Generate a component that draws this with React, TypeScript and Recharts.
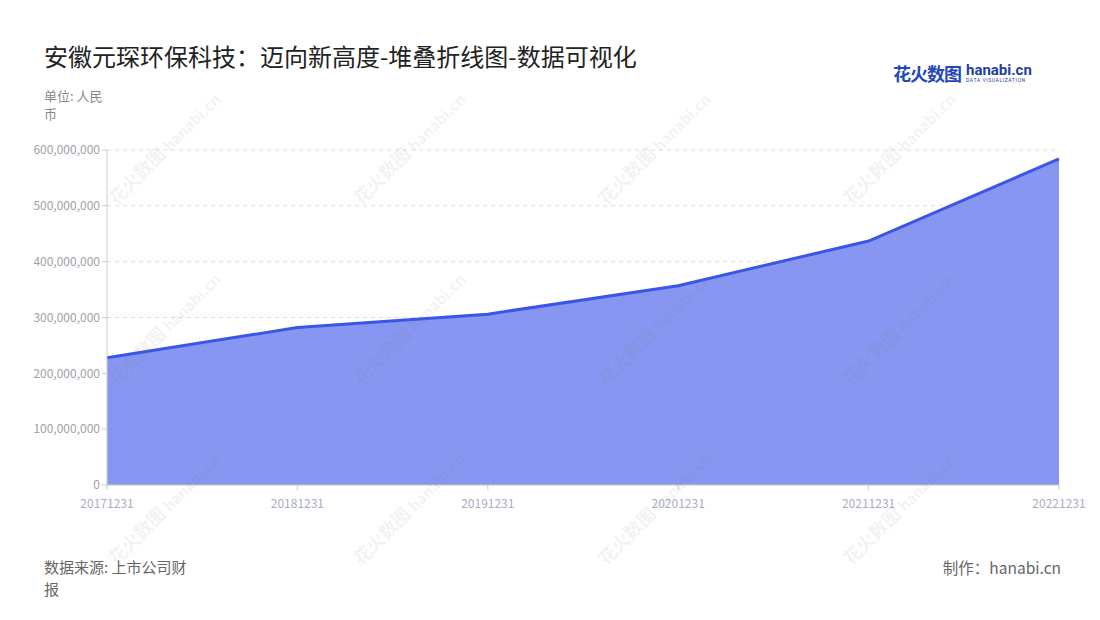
import { Area, AreaChart, CartesianGrid, XAxis, YAxis } from "recharts"

const years = ["20171231", "20181231", "20191231", "20201231", "20211231", "20221231"]
const revenue = [228000000, 282000000, 306000000, 357000000, 437000000, 584000000]
const yTicks = [0, 100000000, 200000000, 300000000, 400000000, 500000000, 600000000]

const data = years.map((name, i) => ({ name, value: revenue[i] }))

const FONT = '"Noto Sans CJK SC", "Noto Sans", sans-serif'

const marks = [
  [160, 150], [405, 150], [650, 150], [895, 150],
  [160, 330], [405, 330], [650, 330], [895, 330],
  [160, 510], [405, 510], [650, 510], [895, 510],
]

function Watermark({ x, y }: { x: number, y: number }) {
  return (
    <div
      style={{
        position: "absolute",
        left: x - 70,
        top: y - 12,
        width: 140,
        transform: "rotate(-45deg)",
        color: "rgba(120,120,120,0.1)",
        fontFamily: FONT,
        fontWeight: 700,
        fontSize: 18,
        whiteSpace: "nowrap",
        pointerEvents: "none",
      }}
    >
      花火数图 <span style={{ fontSize: 15 }}>hanabi.cn</span>
    </div>
  )
}

export default function App() {
  return (
    <div style={{ position: "absolute", left: 0, top: 0, width: 1100, height: 620, background: "#fff", fontFamily: FONT, overflow: "hidden" }}>
      <div style={{ position: "absolute", left: 44, top: 38, fontSize: 24, color: "#222", whiteSpace: "nowrap" }}>
        安徽元琛环保科技：迈向新高度-堆叠折线图-数据可视化
      </div>

      <div style={{ position: "absolute", left: 893, top: 60, display: "flex", alignItems: "center" }}>
        <span style={{ fontSize: 18, fontWeight: 700, color: "#2348b8", letterSpacing: -1 }}>花火数图</span>
        <div style={{ marginLeft: 5, lineHeight: 1 }}>
          <div style={{ fontSize: 15, fontWeight: 700, color: "#23409e", fontFamily: "Roboto, sans-serif" }}>hanabi.cn</div>
          <div style={{ fontSize: 5, color: "#23409e", letterSpacing: 0.6, fontFamily: "Roboto, sans-serif" }}>DATA VISUALIZATION</div>
        </div>
      </div>

      <div style={{ position: "absolute", left: 44, top: 87, width: 70, fontSize: 13, lineHeight: "18px", color: "#888" }}>
        单位: 人民币
      </div>

      <div style={{ position: "absolute", left: 0, top: 0 }}>
        <AreaChart
          width={1100}
          height={620}
          data={data}
          margin={{ top: 150, right: 41, left: 27, bottom: 105 }}
        >
          <CartesianGrid vertical={false} stroke="#dcdcdc" strokeDasharray="4 4" />
          <XAxis
            dataKey="name"
            stroke="#cccccc"
            tick={{ fill: "#a9adbf", fontSize: 12 }}
            tickSize={5}
            tickMargin={9}
            height={30}
            interval={0}
          />
          <YAxis
            width={80}
            domain={[0, 600000000]}
            ticks={yTicks}
            stroke="#cccccc"
            tick={{ fill: "#a0a0a8", fontSize: 12 }}
            tickSize={5}
            tickFormatter={(v: number) => v.toLocaleString("en-US")}
          />
          <Area
            type="linear"
            dataKey="value"
            stroke="#3b55e6"
            strokeWidth={3}
            fill="#8796f0"
            fillOpacity={1}
            dot={false}
            activeDot={false}
            isAnimationActive={false}
          />
        </AreaChart>
      </div>

      {marks.map(([x, y], i) => <Watermark key={i} x={x} y={y} />)}

      <div style={{ position: "absolute", left: 44, top: 556, width: 156, fontSize: 15, lineHeight: "22px", color: "#666" }}>
        数据来源: 上市公司财报
      </div>
      <div style={{ position: "absolute", right: 39, top: 556, fontSize: 15.5, lineHeight: "22px", color: "#666", whiteSpace: "nowrap" }}>
        制作：hanabi.cn
      </div>
    </div>
  )
}
